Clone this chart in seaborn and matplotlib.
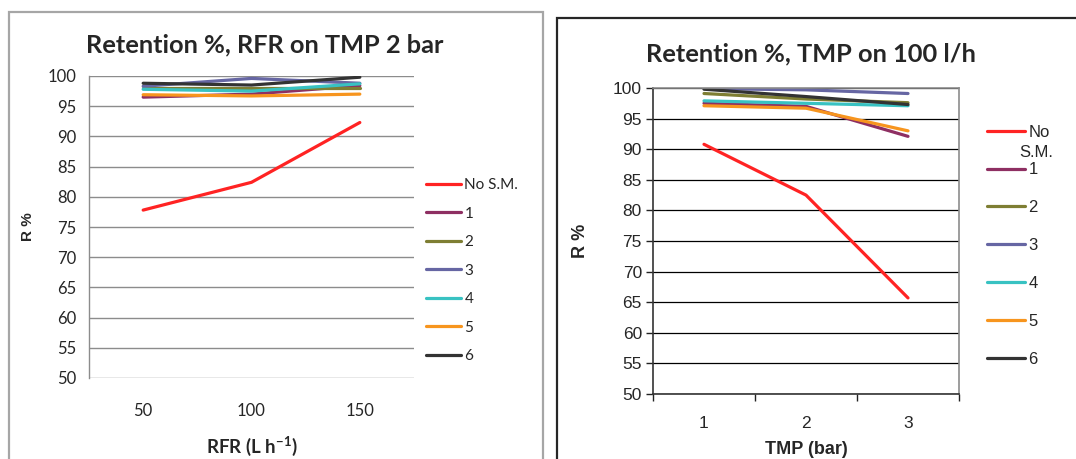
import matplotlib
matplotlib.use("Agg")
import matplotlib.pyplot as plt
from matplotlib.patches import Rectangle
import numpy as np
import pandas as pd
import seaborn as sns

# ---- data ----
series = ["No S.M.", "1", "2", "3", "4", "5", "6"]

rfr_values = [50, 100, 150]
rfr_nosm = [77.8, 82.4, 92.3]
rfr_s1 = [96.5, 97.0, 98.4]
rfr_s2 = [98.0, 98.0, 98.0]
rfr_s3 = [98.3, 99.6, 98.8]
rfr_s4 = [97.8, 97.5, 98.7]
rfr_s5 = [96.9, 96.7, 97.0]
rfr_s6 = [98.8, 98.5, 99.8]

tmp_values = [1, 2, 3]
tmp_nosm = [90.8, 82.5, 65.7]
tmp_s1 = [97.5, 97.0, 92.1]
tmp_s2 = [99.1, 98.2, 97.6]
tmp_s3 = [99.9, 99.7, 99.1]
tmp_s4 = [97.9, 97.5, 97.1]
tmp_s5 = [97.1, 96.7, 93.0]
tmp_s6 = [99.8, 98.6, 97.3]

y_ticks = [50, 55, 60, 65, 70, 75, 80, 85, 90, 95, 100]

colors = ["#FF2323", "#8E2F62", "#7E7E33", "#6666A3", "#38C2C2", "#F7951E", "#333333"]
palette = dict(zip(series, colors))


def long_form(x_vals, cols):
    rows = []
    for name, vals in zip(series, cols):
        for x, v in zip(x_vals, vals):
            rows.append({"x": x, "R": v, "series": name})
    return pd.DataFrame(rows)


df_rfr = long_form(rfr_values, [rfr_nosm, rfr_s1, rfr_s2, rfr_s3, rfr_s4, rfr_s5, rfr_s6])
df_tmp = long_form(tmp_values, [tmp_nosm, tmp_s1, tmp_s2, tmp_s3, tmp_s4, tmp_s5, tmp_s6])

sns.set_theme(style="white")
plt.rcParams["font.family"] = ["Liberation Sans", "DejaVu Sans"]

W, H = 1076, 459
fig = plt.figure(figsize=(W / 100, H / 100), dpi=100)


def px_axes(left, top, right, bottom):
    return fig.add_axes([left / W, 1 - bottom / H, (right - left) / W, (bottom - top) / H])


# chart frames
fig.patches.append(Rectangle((9 / W, -0.1), (543 - 9) / W, 1.1 - 12 / H,
                             transform=fig.transFigure, fill=False,
                             edgecolor="#A6A6A6", linewidth=1.6))
fig.patches.append(Rectangle((557 / W, -0.1), 0.5, 1.1 - 18 / H,
                             transform=fig.transFigure, fill=False,
                             edgecolor="#262626", linewidth=1.6))

# ---------------- left chart ----------------
ax1 = px_axes(89, 76, 414, 378)
sns.lineplot(data=df_rfr, x="x", y="R", hue="series", hue_order=series,
             palette=palette, linewidth=2.3, ax=ax1, legend=True, sort=False)
ax1.set_xlim(25, 175)
ax1.set_ylim(50, 100)
ax1.set_xticks(rfr_values)
ax1.set_xticklabels([str(v) for v in rfr_values], fontfamily="Lato", fontsize=12)
ax1.set_yticks(y_ticks)
ax1.set_yticklabels([str(v) for v in y_ticks], fontfamily="Lato", fontsize=12)
ax1.tick_params(axis="y", length=0, pad=9)
ax1.tick_params(axis="x", length=0, pad=18)
ax1.yaxis.grid(True, color="#8C8C8C", linewidth=1.0)
ax1.set_axisbelow(True)
for s in ["top", "right", "bottom"]:
    ax1.spines[s].set_visible(False)
ax1.spines["left"].set_color("#8C8C8C")
ax1.spines["left"].set_linewidth(1.0)
ax1.set_xlabel("RFR (L h$^{\\mathregular{-1}}$)", fontfamily="Lato", fontweight="bold",
               fontsize=13.5, labelpad=11)
ax1.set_ylabel("R %", fontweight="bold", fontsize=11, labelpad=9)
ax1.set_title("Retention %, RFR on TMP 2 bar", fontfamily="Lato", fontweight="bold",
              fontsize=18.3, pad=17, x=0.54)

h1, l1 = ax1.get_legend_handles_labels()
ax1.legend(h1, l1, loc="upper left", bbox_to_anchor=(420 / W, 1 - 172 / H),
           bbox_transform=fig.transFigure, frameon=False, handlelength=2.3,
           handletextpad=0.2, labelspacing=0.95, borderaxespad=0,
           prop={"family": "Lato", "size": 11})

# ---------------- right chart ----------------
ax2 = px_axes(653, 88, 959, 394)
sns.lineplot(data=df_tmp, x="x", y="R", hue="series", hue_order=series,
             palette=palette, linewidth=2.3, ax=ax2, legend=True, sort=False)
ax2.set_xlim(0.5, 3.5)
ax2.set_ylim(50, 100)
ax2.set_xticks([0.5, 1.5, 2.5, 3.5])
ax2.set_xticklabels([])
ax2.set_xticks(tmp_values, minor=True)
ax2.set_xticklabels([str(v) for v in tmp_values], minor=True, fontsize=12.5)
ax2.tick_params(axis="x", which="major", direction="out", length=5, width=1,
                color="#222222", bottom=True)
ax2.tick_params(axis="x", which="minor", length=0, pad=16)
ax2.set_yticks(y_ticks)
ax2.set_yticklabels([str(v) for v in y_ticks], fontsize=12.5)
ax2.tick_params(axis="y", direction="out", length=5, width=1, color="#222222",
                left=True, pad=3)
ax2.yaxis.grid(True, color="#000000", linewidth=0.9)
ax2.set_axisbelow(True)
for s in ["top", "right"]:
    ax2.spines[s].set_color("#8C8C8C")
    ax2.spines[s].set_linewidth(1.2)
for s in ["left", "bottom"]:
    ax2.spines[s].set_color("#333333")
    ax2.spines[s].set_linewidth(1.2)
ax2.set_xlabel("TMP (bar)", fontweight="bold", fontsize=13, labelpad=7)
ax2.set_ylabel("R %", fontweight="bold", fontsize=13, labelpad=17.5)
ax2.set_title("Retention %, TMP on 100 l/h", fontfamily="Lato", fontweight="bold",
              fontsize=18.3, pad=19, x=0.516)

h2, l2 = ax2.get_legend_handles_labels()
l2 = ["No" if lab == "No S.M." else lab for lab in l2]
ax2.legend(h2, l2, loc="upper left", bbox_to_anchor=(980 / W, 1 - 118 / H),
           bbox_transform=fig.transFigure, frameon=False, handlelength=2.3,
           handletextpad=0.2, labelspacing=1.37, borderaxespad=0,
           prop={"size": 12})
fig.text(1019 / W, 1 - 153 / H, "S.M.", fontsize=12, va="center", ha="left")

fig.savefig("out.png", dpi=100)
